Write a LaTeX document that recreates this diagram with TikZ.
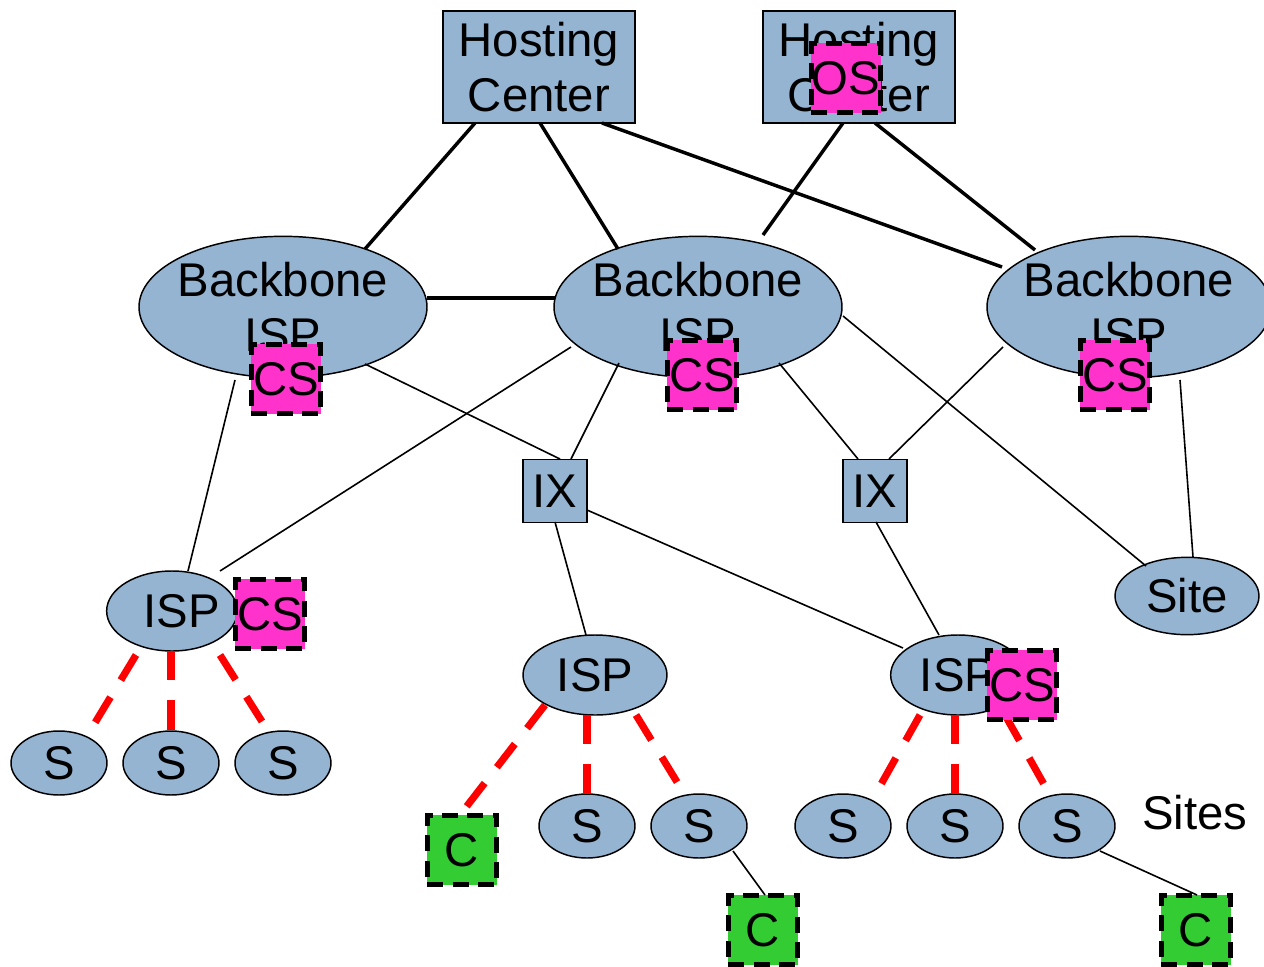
\documentclass[tikz,border=0pt]{standalone}
\usepackage{fontspec}
\setmainfont{Liberation Sans}
\usetikzlibrary{shapes.geometric,calc}
\definecolor{nodeblue}{RGB}{148,180,209}
\definecolor{csmag}{RGB}{255,51,204}
\definecolor{cgreen}{RGB}{51,204,51}
\tikzset{
  big/.style={font=\fontsize{35.5}{41}\selectfont},
  ell/.style={ellipse, draw=black, line width=1.1pt, fill=nodeblue, inner sep=-20pt, big, align=center},
  boxn/.style={rectangle, draw=black, line width=1.1pt, fill=nodeblue, inner sep=0pt, big, align=center},
  csbox/.style={rectangle, fill=csmag, draw=black, line width=3.6pt, dash pattern=on 12pt off 7pt, minimum width=52pt, minimum height=52pt, inner sep=0pt, big},
  cbox/.style={rectangle, fill=cgreen, draw=black, line width=3.6pt, dash pattern=on 12pt off 7pt, minimum width=52pt, minimum height=52pt, inner sep=0pt, big},
  thickln/.style={line width=2.6pt, black},
  thinln/.style={line width=1.2pt, black},
  redln/.style={line width=5.4pt, red, dash pattern=on 22pt off 15pt},
}
\begin{document}
\begin{tikzpicture}[x=0.75pt, y=-0.75pt]
\useasboundingbox (0,0) rectangle (1264,967);
% nodes
\node[boxn, minimum width=144pt, minimum height=84pt] (hc1) at (539,67) {Hosting\\Center};
\node[boxn, minimum width=144pt, minimum height=84pt] (hc2) at (859,67) {Hosting\\Center};
\node[ell, minimum width=216pt, minimum height=106pt] (bb1) at (283,307) {Backbone\\ISP};
\node[ell, minimum width=216pt, minimum height=106pt] (bb2) at (698,307) {Backbone\\ISP};
\node[ell, minimum width=213pt, minimum height=106pt] (bb3) at (1129,307) {Backbone\\ISP};
\node[boxn, minimum width=48pt, minimum height=47pt] (ix1) at (555,491) {IX};
\node[boxn, minimum width=48pt, minimum height=47pt] (ix2) at (875,491) {IX};
\node[ell, minimum width=98pt, minimum height=60pt, text width=72pt, align=right] (ispL) at (172,611) {ISP};
\node[ell, minimum width=108pt, minimum height=60pt] (ispM) at (595,675) {ISP};
\node[ell, minimum width=101pt, minimum height=60pt] (ispR) at (958,675) {ISP};
\node[ell, minimum width=108pt, minimum height=58pt] (site) at (1187,596) {Site};
\node[ell, minimum width=72pt, minimum height=48pt] (s1) at (59,763) {S};
\node[ell, minimum width=72pt, minimum height=48pt] (s2) at (171,763) {S};
\node[ell, minimum width=72pt, minimum height=48pt] (s3) at (283,763) {S};
\node[ell, minimum width=72pt, minimum height=48pt] (s4) at (587,826) {S};
\node[ell, minimum width=72pt, minimum height=48pt] (s5) at (699,826) {S};
\node[ell, minimum width=72pt, minimum height=48pt] (s6) at (843,826) {S};
\node[ell, minimum width=72pt, minimum height=48pt] (s7) at (955,826) {S};
\node[ell, minimum width=72pt, minimum height=48pt] (s8) at (1067,826) {S};
\node[big] (sites) at (1195,813) {Sites};
\node[cbox] (c1) at (462,850) {C};
\node[cbox] (c2) at (763,930) {C};
\node[cbox] (c3) at (1196,930) {C};
% thick edges
\draw[thickln] ($(hc1)+(-64,56)$) -- ($(bb1)+(82,-58)$);
\draw[thickln] ($(hc1)+(1,56)$) -- ($(bb2)+(-80,-58)$);
\draw[thickln] ($(hc1)+(63,56)$) -- ($(bb3)+(-127,-40)$);
\draw[thickln] ($(hc2)+(-16,56)$) -- ($(bb2)+(65,-72)$);
\draw[thickln] ($(hc2)+(16,56)$) -- ($(bb3)+(-94,-57)$);
\draw[thickln] ($(bb1)+(144,-9)$) -- ($(bb2)+(-143,-9)$);
% thin edges
\draw[thinln] ($(bb1)+(82,57)$) -- ($(ix1)+(5,-32)$);
\draw[thinln] ($(bb1)+(-48,73)$) -- ($(ispL)+(16,-40)$);
\draw[thinln] ($(bb2)+(-127,40)$) -- ($(ispL)+(48,-40)$);
\draw[thinln] ($(bb2)+(-79,56)$) -- ($(ix1)+(16,-32)$);
\draw[thinln] ($(bb2)+(81,56)$) -- ($(ix2)+(-17,-32)$);
\draw[thinln] ($(bb2)+(145,9)$) -- ($(site)+(-41,-30)$);
\draw[thinln] ($(bb3)+(-126,40)$) -- ($(ix2)+(14,-32)$);
\draw[thinln] ($(bb3)+(51,73)$) -- ($(site)+(6,-39)$);
\draw[thinln] ($(ix1)+(32,19)$) -- ($(ispR)+(-55,-27)$);
\draw[thinln] ($(ix1)+(0,31)$) -- ($(ispM)+(-9,-40)$);
\draw[thinln] ($(ix2)+(1,31)$) -- ($(ispR)+(-19,-40)$);
\draw[thinln] ($(s5)+(34,25)$) -- ($(c2)+(2,-35)$);
\draw[thinln] ($(s8)+(33,25)$) -- ($(c3)+(1,-35)$);
% red dashed
\draw[redln] ($(ispL)+(-36,44)$) -- ($(s1)+(31,-32)$);
\draw[redln] ($(ispL)+(-1,40)$) -- ($(s2)+(0,-32)$);
\draw[redln] ($(ispL)+(48,44)$) -- ($(s3)+(-15,-32)$);
\draw[redln] ($(ispM)+(-50,30)$) -- ($(c1)+(-2,-35)$);
\draw[redln] ($(ispM)+(-8,40)$) -- ($(s4)+(0,-31)$);
\draw[redln] ($(ispM)+(41,40)$) -- ($(s5)+(-14,-31)$);
\draw[redln] ($(ispR)+(-38,40)$) -- ($(s6)+(32,-31)$);
\draw[redln] ($(ispR)+(-3,40)$) -- ($(s7)+(0,-31)$);
\draw[redln] ($(ispR)+(47,40)$) -- ($(s8)+(-17,-31)$);
% server boxes
\node[csbox] (os) at (846,78) {OS};
\node[csbox] (cs1) at (286,379) {CS};
\node[csbox] (cs2) at (702,375) {CS};
\node[csbox] (cs3) at (1115,375) {CS};
\node[csbox] (cs4) at (270,614) {CS};
\node[csbox] (cs5) at (1022,685) {CS};
\end{tikzpicture}
\end{document}
